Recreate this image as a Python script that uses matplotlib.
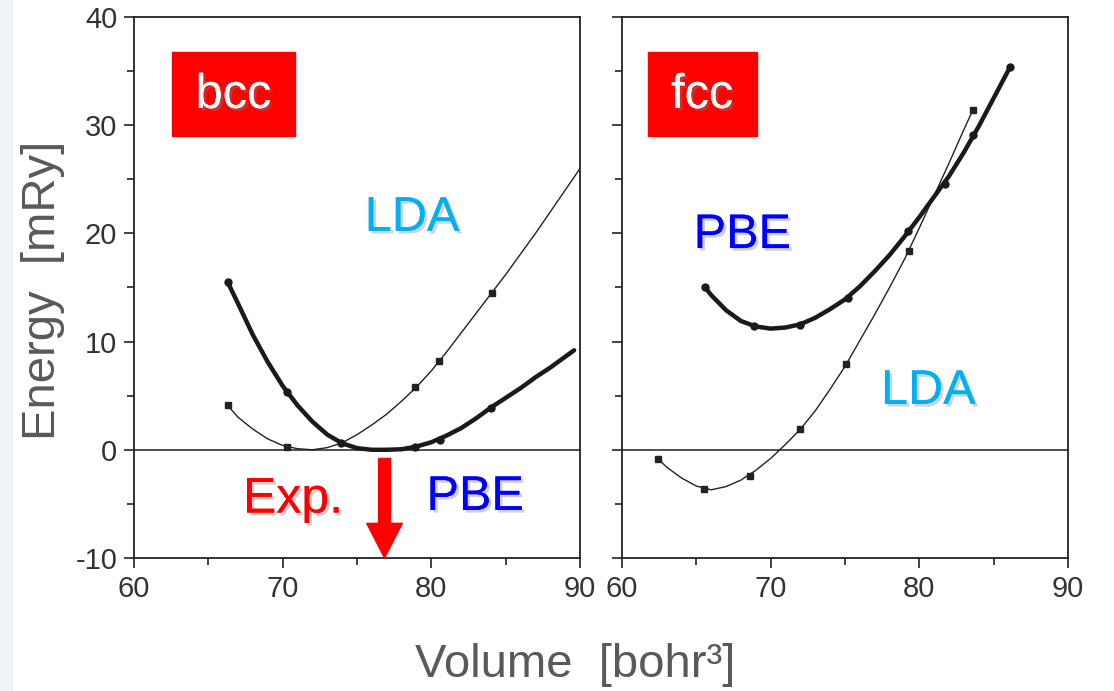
# Energy vs volume, bcc and fcc, LDA vs PBE
import numpy as np
import matplotlib
matplotlib.use('Agg')
import matplotlib.pyplot as plt
import matplotlib.patheffects as pe
from matplotlib.patches import Rectangle

plt.rcParams['font.family'] = ['Liberation Sans', 'DejaVu Sans']
plt.rcParams['axes.unicode_minus'] = False

# ---- data ----
# bcc, LDA (thin line, square markers)
bcc_lda_v = [66.3, 67, 68, 69, 70, 71, 72, 73, 74, 75, 76, 77, 78, 79, 80, 81, 82, 83, 84, 85, 86, 87, 88, 89, 90]
bcc_lda_e = [4.1, 3.0, 1.9, 1.0, 0.4, 0.1, 0.0, 0.2, 0.65, 1.4, 2.3, 3.3, 4.5, 5.8, 7.3, 9.0, 10.8, 12.6, 14.4, 16.2, 18.1, 20.0, 22.0, 24.0, 26.0]
bcc_lda_mv = [66.3, 70.3, 78.9, 80.5, 84.1]
bcc_lda_me = [4.1, 0.3, 5.8, 8.2, 14.5]

# bcc, PBE (thick line, round markers)
bcc_pbe_v = [66.3, 67, 68, 69, 70, 71, 72, 73, 74, 75, 76, 77, 78, 79, 80, 81, 82, 83, 84, 85, 86, 87, 88, 89, 89.6]
bcc_pbe_e = [15.5, 13.5, 10.6, 8.1, 5.9, 4.1, 2.6, 1.4, 0.6, 0.15, 0.0, 0.0, 0.05, 0.3, 0.7, 1.3, 2.0, 2.9, 3.9, 4.8, 5.7, 6.7, 7.6, 8.6, 9.2]
bcc_pbe_mv = [66.3, 70.3, 73.9, 78.9, 80.6, 84.0]
bcc_pbe_me = [15.5, 5.3, 0.65, 0.3, 0.9, 3.9]

# fcc, LDA
fcc_lda_v = [62.45, 63, 64, 65, 66, 67, 68, 69, 70, 71, 72, 73, 74, 75, 76, 77, 78, 79, 80, 81, 82, 83, 83.6]
fcc_lda_e = [-0.85, -1.6, -2.6, -3.35, -3.7, -3.4, -2.8, -1.9, -0.8, 0.5, 1.9, 3.6, 5.6, 7.7, 10.1, 12.5, 15.0, 17.6, 20.5, 23.5, 26.5, 29.6, 31.4]
fcc_lda_mv = [62.45, 65.5, 68.6, 72.0, 75.1, 79.3, 83.6]
fcc_lda_me = [-0.85, -3.6, -2.4, 1.9, 7.9, 18.4, 31.4]

# fcc, PBE
fcc_pbe_v = [65.6, 66, 67, 68, 69, 70, 71, 72, 73, 74, 75, 76, 77, 78, 79, 80, 81, 82, 83, 84, 85, 86, 86.1]
fcc_pbe_e = [15.0, 14.3, 12.9, 11.9, 11.4, 11.2, 11.3, 11.6, 12.2, 13.0, 13.9, 15.1, 16.5, 18.0, 19.7, 21.5, 23.4, 25.3, 27.5, 29.9, 32.5, 35.1, 35.4]
fcc_pbe_mv = [65.6, 68.9, 72.0, 75.2, 79.25, 81.7, 83.6, 86.1]
fcc_pbe_me = [15.0, 11.4, 11.5, 14.0, 20.2, 24.6, 29.1, 35.4]

x_ticks = [60, 70, 80, 90]
y_ticks = [-10, 0, 10, 20, 30, 40]

fig = plt.figure(figsize=(11.14, 6.91), dpi=100)
# faint pale strip on the left edge of the slide
fig.patches.append(Rectangle((0, 0), 0.011, 1, transform=fig.transFigure, color='#eef4f7', zorder=0))
ax1 = fig.add_axes([0.1203, 0.1925, 0.4004, 0.7829])
ax2 = fig.add_axes([0.5583, 0.1925, 0.4004, 0.7829])

shadow = [pe.withSimplePatchShadow(offset=(2, -2), alpha=0.35, shadow_rgbFace='gray'), pe.Normal()]

for ax in (ax1, ax2):
    ax.set_xlim(60, 90)
    ax.set_ylim(-10, 40)
    ax.set_xticks(x_ticks)
    ax.set_xticks(np.arange(60, 91, 5), minor=True)
    ax.set_yticks(y_ticks)
    ax.set_yticks(np.arange(-10, 41, 5), minor=True)
    ax.tick_params(which='both', direction='out', length=7, width=1.2, colors='#222222',
                   labelsize=21, labelcolor='#333333', top=False, right=False, pad=5)
    ax.tick_params(which='minor', length=5)
    for s in ax.spines.values():
        s.set_linewidth(1.3)
        s.set_color('#222222')
    ax.axhline(0, color='#222222', lw=1.1, zorder=1)

ax2.set_yticklabels([])

# bcc
ax1.plot(bcc_lda_v, bcc_lda_e, color='#222222', lw=1.0)
ax1.plot(bcc_lda_mv, bcc_lda_me, 's', color='#222222', ms=5)
ax1.plot(bcc_pbe_v, bcc_pbe_e, color='#1a1a1a', lw=3.2, solid_capstyle='round')
ax1.plot(bcc_pbe_mv, bcc_pbe_me, 'o', color='#1a1a1a', ms=5)

# fcc
ax2.plot(fcc_lda_v, fcc_lda_e, color='#222222', lw=1.0)
ax2.plot(fcc_lda_mv, fcc_lda_me, 's', color='#222222', ms=5)
ax2.plot(fcc_pbe_v, fcc_pbe_e, color='#1a1a1a', lw=3.2, solid_capstyle='round')
ax2.plot(fcc_pbe_mv, fcc_pbe_me, 'o', color='#1a1a1a', ms=5)

# structure tags
ax1.add_patch(Rectangle((0.085, 0.780), 0.276, 0.155, transform=ax1.transAxes, color='#ff0000', zorder=5))
ax1.text(0.085 + 0.138, 0.855, 'bcc', transform=ax1.transAxes, color='white', fontsize=35,
         ha='center', va='center', zorder=6, path_effects=shadow)
ax2.add_patch(Rectangle((0.058, 0.780), 0.244, 0.155, transform=ax2.transAxes, color='#ff0000', zorder=5))
ax2.text(0.058 + 0.122, 0.855, 'fcc', transform=ax2.transAxes, color='white', fontsize=35,
         ha='center', va='center', zorder=6, path_effects=shadow)

# functional labels
ax1.text(78.7, 21.4, 'LDA', color='#00b0f0', fontsize=35, ha='center', va='center', path_effects=shadow)
ax1.text(82.95, -4.4, 'PBE', color='#0000ff', fontsize=35, ha='center', va='center', path_effects=shadow)
ax1.text(70.7, -4.6, 'Exp.', color='#ff0000', fontsize=36, ha='center', va='center', path_effects=shadow)
ax2.text(68.1, 19.8, 'PBE', color='#0000ff', fontsize=35, ha='center', va='center', path_effects=shadow)
ax2.text(80.6, 5.4, 'LDA', color='#00b0f0', fontsize=35, ha='center', va='center', path_effects=shadow)

# experimental volume arrow
ax1.arrow(76.85, -0.8, 0, -9.2, width=0.8, head_width=2.4, head_length=3.2,
          length_includes_head=True, color='#ff0000', clip_on=False, zorder=6)

fig.text(0.039, 0.58, 'Energy  [mRy]', rotation=90, color='#595959', fontsize=34,
         ha='center', va='center')
fig.text(0.516, 0.038, 'Volume  [bohr³]', color='#595959', fontsize=34,
         ha='center', va='center')

fig.savefig('out.png', dpi=100)
